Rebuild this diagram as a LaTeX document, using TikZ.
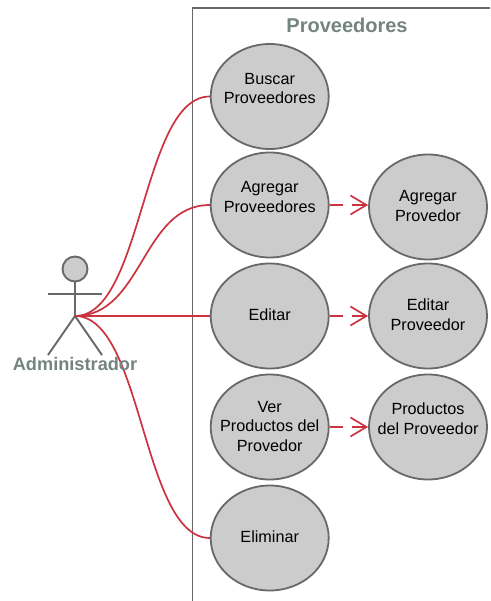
\documentclass[tikz,border=0pt]{standalone}
\usepackage{fontspec}
\setmainfont{Liberation Sans}
\usetikzlibrary{arrows.meta,shapes.geometric}
\definecolor{edgegray}{HTML}{686868}
\definecolor{fillgray}{HTML}{CCCCCC}
\definecolor{titlegray}{HTML}{748481}
\definecolor{linkred}{HTML}{CC3340}
\newcommand{\casetext}[2][2pt]{\smash{\makebox[0pt]{\raisebox{\dimexpr#1-7pt\relax}{\begin{tabular}{@{}c@{}}#2\end{tabular}}}}}
\tikzset{
  usecase/.style={ellipse,draw=edgegray,fill=fillgray,line width=1.8pt,minimum width=118pt,minimum height=105pt,inner sep=0pt,font=\fontsize{16.2}{19.5}\selectfont,text=black},
  assoc/.style={draw=linkred,line width=1.7pt},
  incl/.style={draw=linkred,line width=1.7pt,dash pattern=on 13pt off 9pt on 40pt off 0pt,-{Straight Barb[length=16pt,width=19pt,line width=1.7pt]}},
  stick/.style={draw=edgegray,line width=1.9pt},
  heading/.style={text=titlegray,inner sep=0pt}
}
\begin{document}
\begin{tikzpicture}[x=1pt,y=-1pt]
\useasboundingbox (0,0) rectangle (490,601);
\fill[white] (0,0) rectangle (490,601);
\draw[stick] (490,8) coordinate (fr) -- (192.5,8) -- (192.5,601);
\node[heading,font=\fontsize{20}{24}\selectfont\bfseries] (title) at (347,25) {Proveedores};
% actor
\coordinate (hub) at (75,316);
\node[circle,draw=edgegray,fill=fillgray,line width=1.9pt,minimum size=25pt,inner sep=0pt] (head) at (75,269) {};
\coordinate (armL) at (48,294);
\coordinate (armR) at (102,294);
\coordinate (legL) at (48,355);
\coordinate (legR) at (102,355);
\draw[stick] (head.south) -- (hub);
\draw[stick] (armL) -- (armR);
\draw[stick] (legL) -- (hub) -- (legR);
% use cases
\node[usecase] (e1) at (269.7,96.5) {\casetext[9pt]{Buscar\\Proveedores}};
\node[usecase] (e2) at (269.7,205) {\casetext[9pt]{Agregar\\Proveedores}};
\node[usecase] (e3) at (269.7,316) {\casetext{Editar}};
\node[usecase] (e4) at (269.7,427) {\casetext{Ver\\Productos del\\Provedor}};
\node[usecase] (e5) at (269.7,538) {\casetext{Eliminar}};
\node[usecase] (f2) at (428,207) {\casetext{Agregar\\Provedor}};
\node[usecase] (f3) at (428,316) {\casetext{Editar\\Proveedor}};
\node[usecase] (f4) at (428,427) {\casetext[9pt]{Productos\\del Proveedor}};
% connectors
\draw[assoc] (hub) .. controls +(68,0) and +(-68,0) .. (e1.west);
\draw[assoc] (hub) .. controls +(68,0) and +(-68,0) .. (e2.west);
\draw[assoc] (hub) -- (e3.west);
\draw[assoc] (hub) .. controls +(68,0) and +(-68,0) .. (e5.west);
\draw[incl] (e2.east) -- (f2.west |- e2.east);
\draw[incl] (e3.east) -- (f3.west);
\draw[incl] (e4.east) -- (f4.west);
\node[heading,font=\fontsize{18.2}{22}\selectfont\bfseries] (actorlabel) at (75,364) {Administrador};
\end{tikzpicture}
\end{document}
